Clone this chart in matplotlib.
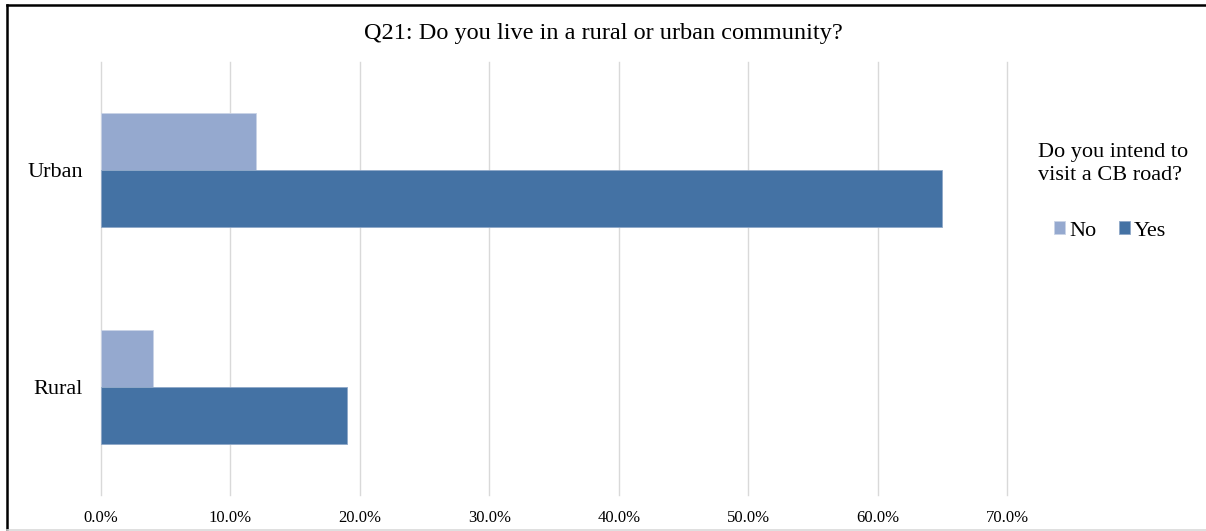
import matplotlib
matplotlib.use("Agg")
from matplotlib import pyplot as plt
from matplotlib.lines import Line2D
from matplotlib.ticker import PercentFormatter

plt.rcParams['font.family'] = ['Liberation Serif', 'DejaVu Serif']

# Dane ankiety
communities = ['Rural', 'Urban']
no_share = [4.0, 12.0]
yes_share = [19.0, 65.0]
series_labels = ['No', 'Yes']
x_ticks = [0, 10, 20, 30, 40, 50, 60, 70]

COLOR_NO = '#95A9CF'
COLOR_YES = '#4472A4'

fig = plt.figure(figsize=(12.06, 5.31), dpi=100)
ax = fig.add_axes([101 / 1206, 36 / 531, 906 / 1206, 433 / 531])

h = 0.264
pos = list(range(len(communities)))
b_no = ax.barh([p + h / 2 for p in pos], no_share, height=h, color=COLOR_NO,
               edgecolor='#C9D3E6', linewidth=0.6, label=series_labels[0], zorder=3)
b_yes = ax.barh([p - h / 2 for p in pos], yes_share, height=h, color=COLOR_YES,
                edgecolor='#8FA8C8', linewidth=0.6, label=series_labels[1], zorder=3)

ax.set_xlim(0, 70)
ax.set_ylim(-0.5, 1.5)
ax.set_xticks(x_ticks)
ax.xaxis.set_major_formatter(PercentFormatter(decimals=1))
ax.set_yticks(pos)
ax.set_yticklabels(communities)
ax.tick_params(axis='x', length=0, pad=11, labelsize=12)
ax.tick_params(axis='y', length=0, pad=13, labelsize=16)
ax.grid(axis='x', color='#D9D9D9', linewidth=1.0, zorder=0)
for gl in ax.get_xgridlines():
    gl.set_clip_on(False)     # ostatnia linia siatki leży na krawędzi osi
for s in ax.spines.values():
    s.set_visible(False)

fig.text(0.5, 1 - 33 / 531, 'Q21: Do you live in a rural or urban community?',
         ha='center', va='center', fontsize=17.5)

# Tytuł legendy i sama legenda
fig.text(1038 / 1206, 1 - 164 / 531, 'Do you intend to\nvisit a CB road?',
         ha='left', va='center', fontsize=16, linespacing=1.25)
fig.legend([b_no, b_yes], series_labels, loc='center',
           bbox_to_anchor=(1110 / 1206, 1 - 231 / 531), ncol=2, frameon=False,
           fontsize=16, handlelength=0.5, handleheight=0.5, handletextpad=0.2,
           columnspacing=1.0)

# Ramka wokół wykresu (prawa krawędź ucięta)
W, H = 1206, 531
fig.add_artist(Line2D([7 / W, 1], [1 - 5 / H, 1 - 5 / H], color='black', linewidth=1.8))
fig.add_artist(Line2D([7 / W, 7 / W], [1 - 5 / H, 0], color='black', linewidth=1.8))
fig.add_artist(Line2D([7 / W, 1], [1 / H, 1 / H], color='#D9D9D9', linewidth=1.2))

plt.savefig('out.png', dpi=100)
plt.close()
